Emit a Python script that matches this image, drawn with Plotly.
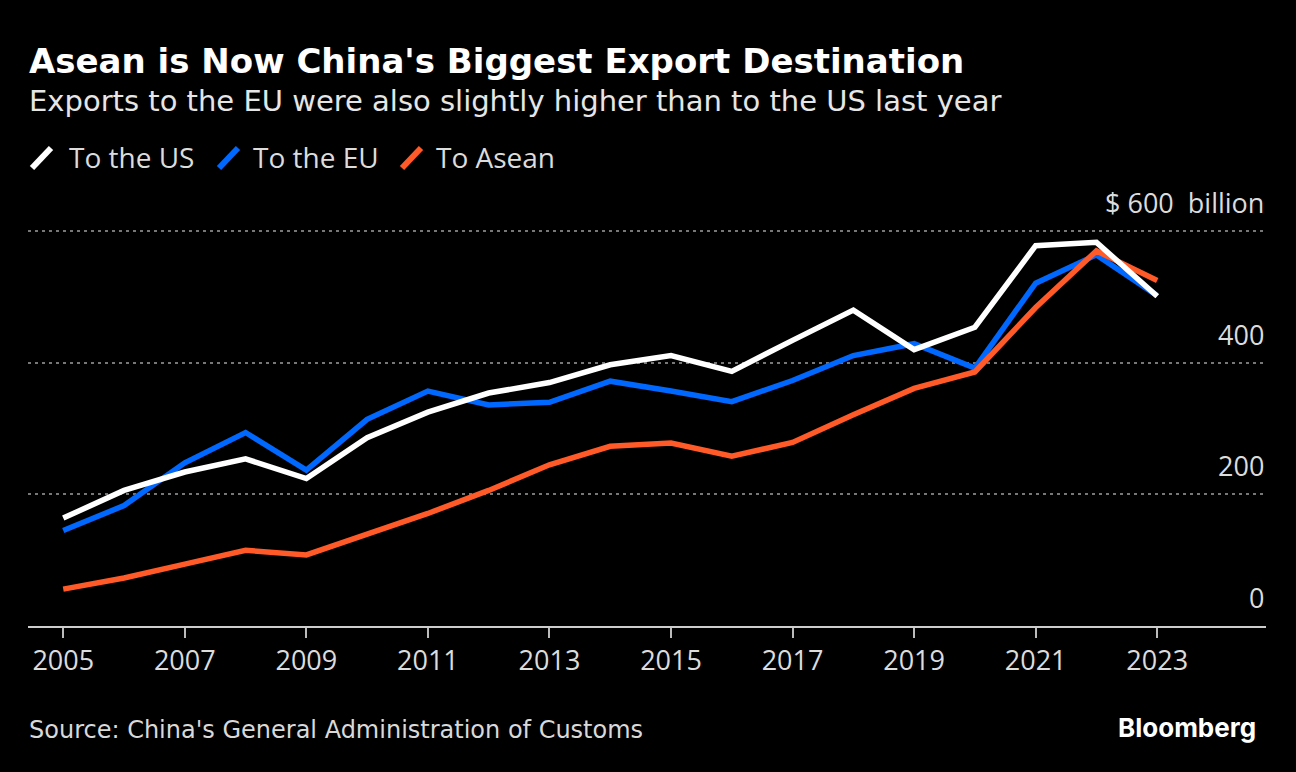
import plotly.graph_objects as go

# ---------------- data ----------------
years = list(range(2005, 2024))
to_us = [164, 206, 234, 254, 224, 286, 325, 354, 370, 397, 411, 387, 434, 480, 420, 454, 578, 583, 501]
to_eu = [145, 183, 248, 294, 237, 314, 357, 336, 340, 372, 357, 341, 373, 411, 429, 392, 521, 564, 502]
to_asean = [56, 73, 94, 115, 108, 139, 171, 206, 245, 273, 278, 258, 279, 321, 361, 386, 484, 570, 525]

series_names = ["To the US", "To the EU", "To Asean"]
series_colors = ["#ffffff", "#0068ff", "#ff5a27"]

xtick_vals = list(range(2005, 2024, 2))
ytick_vals = [0, 200, 400, 600]
ytick_text = ["0", "200", "400", "$ 600\u00a0 billion"]

title = "Asean is Now China's Biggest Export Destination"
subtitle = "Exports to the EU were also slightly higher than to the US last year"
source = "Source: China's General Administration of Customs"

# ---------------- layout constants ----------------
W, H = 1296, 772
ML, MR, MT, MB = 28, 30, 218, 146
PW, PH = W - ML - MR, H - MT - MB


def px_x(px):
    return (px - ML) / PW


def px_y(py):
    return (H - MB - py) / PH


fig = go.Figure()

# draw order: EU, Asean, US on top
for idx in [1, 2, 0]:
    vals = [to_us, to_eu, to_asean][idx]
    fig.add_trace(go.Scatter(
        x=years, y=vals, mode="lines", name=series_names[idx],
        line=dict(color=series_colors[idx], width=5.5), showlegend=False,
        hoverinfo="skip"))

annotations = []
shapes = []

# title & subtitle
annotations.append(dict(text=f"<b>{title}</b>", x=px_x(27), y=px_y(61), xref="paper", yref="paper",
                        xanchor="left", yanchor="middle", showarrow=False,
                        font=dict(family="DejaVu Sans", size=34, color="#ffffff")))
annotations.append(dict(text=subtitle, x=px_x(27), y=px_y(101), xref="paper", yref="paper",
                        xanchor="left", yanchor="middle", showarrow=False,
                        font=dict(family="DejaVu Sans", size=29, color="#e6e6e6")))

# legend
leg_x = [30, 217, 400]
text_x = [67, 251, 434]
for i in range(3):
    shapes.append(dict(type="line", xref="paper", yref="paper",
                       x0=px_x(leg_x[i] + 2), y0=px_y(168), x1=px_x(leg_x[i] + 21), y1=px_y(148),
                       line=dict(color=series_colors[i], width=6)))
    annotations.append(dict(text=series_names[i], x=px_x(text_x[i]), y=px_y(157), xref="paper", yref="paper",
                            xanchor="left", yanchor="middle", showarrow=False,
                            font=dict(family="Open Sans", size=28, color="#dcdcdc")))

# y tick labels (inside, above the gridlines)
for v, t in zip(ytick_vals, ytick_text):
    annotations.append(dict(text=t, x=1, y=v, xref="paper", yref="y", xanchor="right", yanchor="bottom",
                            yshift=8, showarrow=False,
                            font=dict(family="Open Sans", size=27, color="#dcdcdc")))

# source & logo
annotations.append(dict(text=source, x=px_x(27), y=px_y(730), xref="paper", yref="paper",
                        xanchor="left", yanchor="middle", showarrow=False,
                        font=dict(family="DejaVu Sans", size=24, color="#d9d9d9")))
annotations.append(dict(text="<b>Bloomberg</b>", x=px_x(1258), y=px_y(727), xref="paper", yref="paper",
                        xanchor="right", yanchor="middle", showarrow=False,
                        font=dict(family="Inter", size=26, color="#ffffff")))

fig.update_layout(
    width=W, height=H,
    margin=dict(l=ML, r=MR, t=MT, b=MB, pad=0),
    paper_bgcolor="#000000", plot_bgcolor="#000000",
    showlegend=False,
    annotations=annotations, shapes=shapes,
    xaxis=dict(range=[2004.42, 2024.79], tickvals=xtick_vals, ticks="outside", ticklen=10,
               tickwidth=1.5, tickcolor="#bbbbbb", showgrid=False, zeroline=False,
               showline=True, linecolor="#cccccc", linewidth=2,
               tickfont=dict(family="Open Sans", size=27, color="#dcdcdc")),
    yaxis=dict(range=[0, 620], tickvals=ytick_vals, showticklabels=False, showgrid=True,
               gridcolor="#777777", griddash="3px,4px", gridwidth=2, zeroline=False, showline=False),
)

fig.write_html("out.html")
